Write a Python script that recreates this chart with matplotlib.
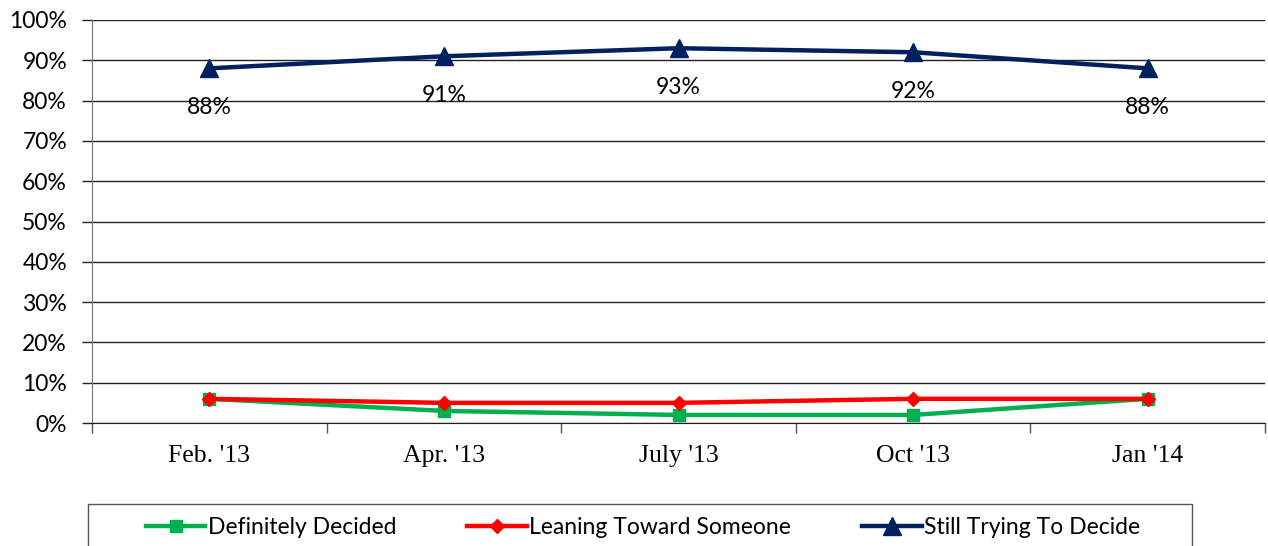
import matplotlib
matplotlib.use("Agg")
import matplotlib.pyplot as plt
from matplotlib.patches import Rectangle
from matplotlib.ticker import FixedLocator, PercentFormatter

periods = ["Feb. '13", "Apr. '13", "July '13", "Oct '13", "Jan '14"]
definitely_decided = [6, 3, 2, 2, 6]
leaning_toward = [6, 5, 5, 6, 6]
still_trying = [88, 91, 93, 92, 88]

SANS = ["Lato", "DejaVu Sans"]
SERIF = ["Liberation Serif", "DejaVu Serif"]

fig = plt.figure(figsize=(12.68, 5.46), dpi=100)
ax = fig.add_axes([92 / 1268, 123 / 546, 1173 / 1268, 403 / 546])

x = list(range(len(periods)))
ax.plot(x, definitely_decided, color="#00b050", lw=3.2, marker="s", ms=8,
        label="Definitely Decided", solid_joinstyle="round")
ax.plot(x, leaning_toward, color="#ff0000", lw=3.2, marker="D", ms=7,
        label="Leaning Toward Someone", solid_joinstyle="round")
ax.plot(x, still_trying, color="#002060", lw=3.2, marker="^", ms=13,
        label="Still Trying To Decide", solid_joinstyle="round")

for xi, v in zip(x, still_trying):
    ax.annotate(f"{v}%", (xi, v), xytext=(0, -39), textcoords="offset pixels",
                ha="center", va="center", fontsize=16.5, family=SANS)

ax.set_xlim(-0.5, len(periods) - 0.5)
ax.set_ylim(0, 100)
ax.yaxis.set_major_locator(FixedLocator(range(0, 101, 10)))
ax.yaxis.set_major_formatter(PercentFormatter(decimals=0))
ax.grid(axis="y", color="#222222", lw=1)
ax.set_axisbelow(True)

ax.set_xticks(x)
ax.set_xticklabels(periods, family=SERIF, fontsize=18.5)
ax.xaxis.set_minor_locator(FixedLocator([i - 0.5 for i in range(len(periods) + 1)]))
ax.tick_params(axis="x", which="major", length=0, pad=16)
ax.tick_params(axis="x", which="minor", length=7, color="#555555", width=1)
ax.tick_params(axis="y", length=7, color="#222222", width=1, labelsize=16.5, pad=11)
for lbl in ax.get_yticklabels():
    lbl.set_family(SANS)

for side in ("top", "right"):
    ax.spines[side].set_visible(False)
ax.spines["left"].set_color("#777777")
ax.spines["bottom"].set_color("#222222")

# legend frame running off the bottom of the figure
fig.patches.append(Rectangle((88 / 1268, -0.05), 1104 / 1268, 0.05 + (546 - 504) / 546,
                             transform=fig.transFigure, fill=False, ec="#555555", lw=1))
fig.legend(loc="center", bbox_to_anchor=(643 / 1268, (546 - 528) / 546), ncol=3,
           frameon=False, prop={"family": SANS, "size": 16.5}, handlelength=2.6,
           handletextpad=0.1, columnspacing=3.1)

fig.savefig("out.png", dpi=100)
